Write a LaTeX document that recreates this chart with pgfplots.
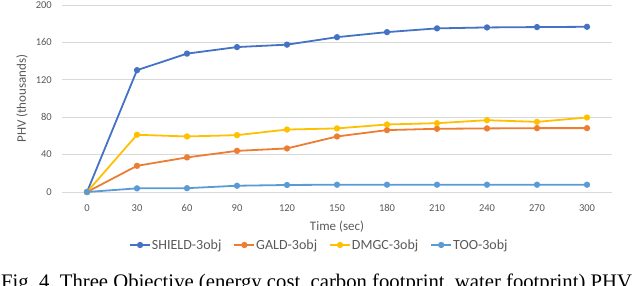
\documentclass[border=0pt]{standalone}
\usepackage{pgfplots}
\pgfplotsset{compat=1.18}
\usepackage{fontspec}
\setmainfont{Carlito}
\newfontfamily\capfont{Liberation Serif}
\definecolor{cShield}{HTML}{4472C4}
\definecolor{cGald}{HTML}{ED7D31}
\definecolor{cDmgc}{HTML}{FFC000}
\definecolor{cToo}{HTML}{5B9BD5}
\definecolor{txt}{HTML}{595959}
\definecolor{grd}{HTML}{D9D9D9}
\begin{document}
\begin{tikzpicture}
\useasboundingbox (-62bp,-94bp) rectangle (572bp,192bp);
\clip (-62bp,-94bp) rectangle (572bp,192bp);
\begin{axis}[
  at={(0,0)}, anchor=south west,
  width=550bp, height=187bp, scale only axis,
  xmin=-15, xmax=315, ymin=0, ymax=200,
  xtick={0,30,...,300}, ytick={0,40,...,200},
  axis line style={draw=none},
  major tick length=0pt,
  ymajorgrids, grid style={color=grd, line width=0.9bp},
  /pgf/number format/assume math mode=true,
  ticklabel style={font=\fontsize{10.5bp}{12bp}\selectfont, text=txt},
  xticklabel style={anchor=center, yshift=-16bp},
  yticklabel style={anchor=east, inner sep=0pt, xshift=-10bp},
  xlabel={Time (sec)},
  ylabel={PHV (thousands)},
  every axis x label/.style={at={(axis description cs:0.5,0)}, anchor=center, yshift=-35bp, font=\fontsize{13bp}{15bp}\selectfont, text=txt},
  every axis y label/.style={at={(axis description cs:0,0.5)}, anchor=center, xshift=-40bp, rotate=90, font=\fontsize{13bp}{15bp}\selectfont, text=txt},
  legend columns=-1,
  legend style={at={(0.467,-0.2834)}, anchor=center, draw=none, fill=none,
    font=\fontsize{14bp}{16bp}\selectfont, text=txt,
    nodes={inner sep=1bp},
    /tikz/every even column/.append style={column sep=11bp}},
  legend image code/.code={\draw[#1, mark repeat=2, mark phase=2] plot coordinates {(0bp,0bp)(10bp,0bp)(20bp,0bp)};},
  every axis plot/.append style={line width=1.8bp, mark=*, mark size=2.2bp, mark options={solid}},
]
\addplot[color=cShield] coordinates {(0,0)(30,130.3)(60,148)(90,155)(120,157.6)(150,165.6)(180,171)(210,175)(240,176)(270,176.4)(300,176.7)};
\addlegendentry{SHIELD-3obj}
\addplot[color=cGald] coordinates {(0,0)(30,28)(60,37)(90,44)(120,46.6)(150,59.4)(180,66.2)(210,67.6)(240,68)(270,68.3)(300,68.3)};
\addlegendentry{GALD-3obj}
\addplot[color=cDmgc] coordinates {(0,0)(30,61.2)(60,59.4)(90,60.8)(120,66.8)(150,68)(180,72.2)(210,73.6)(240,76.8)(270,75)(300,79.7)};
\addlegendentry{DMGC-3obj}
\addplot[color=cToo] coordinates {(0,0)(30,3.9)(60,4.1)(90,6.7)(120,7.5)(150,7.8)(180,7.8)(210,7.8)(240,7.8)(270,7.8)(300,7.8)};
\addlegendentry{TOO-3obj}
\end{axis}
\node[anchor=base west, inner sep=0pt, font=\capfont\fontsize{20.7bp}{22bp}\selectfont] at (-61bp,-96.5bp) {Fig.\ 4.\ Three Objective (energy cost, carbon footprint, water footprint) PHV};
\end{tikzpicture}
\end{document}
